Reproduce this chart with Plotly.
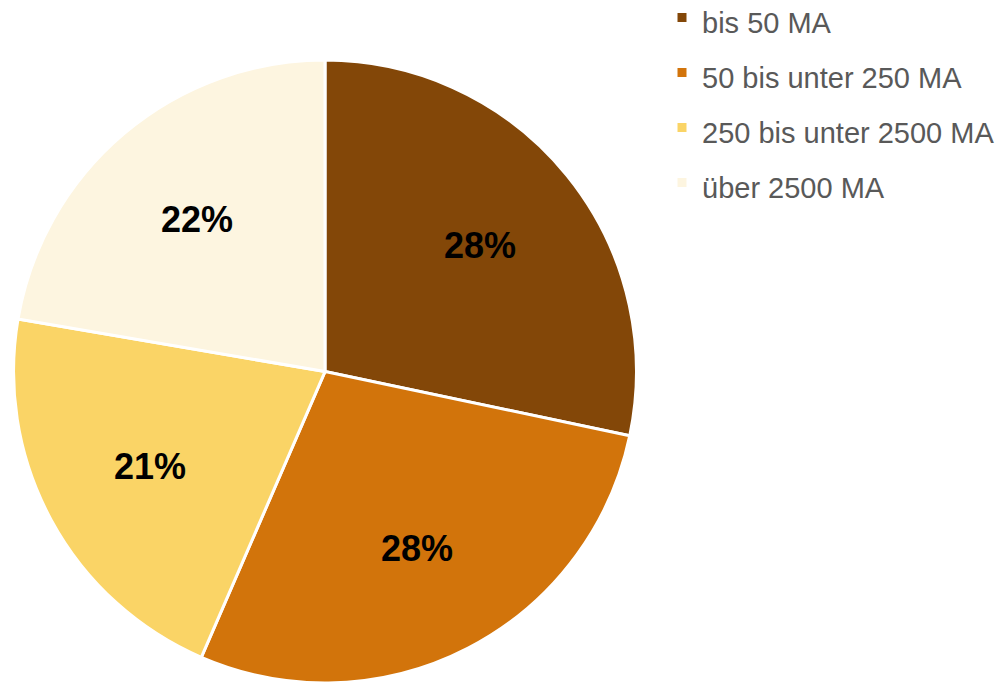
import math
import plotly.graph_objects as go

labels = ["bis 50 MA", "50 bis unter 250 MA", "250 bis unter 2500 MA", "über 2500 MA"]
values = [28.3, 28.2, 21.2, 22.3]
colors = ["#834708", "#D2740B", "#FAD466", "#FDF5E0"]

W, H = 1000, 683
dom_x = [0.013, 0.637]
dom_y = [0.0, 0.912]
font_family = "Liberation Sans, Arial, sans-serif"

fig = go.Figure(go.Pie(
    labels=[f"<span style='font-size:29px'>{l}</span>" for l in labels],
    values=values,
    sort=False,
    direction="clockwise",
    rotation=0,
    marker=dict(colors=colors, line=dict(color="white", width=3)),
    textinfo="none",
    domain=dict(x=dom_x, y=dom_y),
    hovertext=labels,
    hoverinfo="text+percent",
))

# percentage labels placed inside each slice, computed from the values
total = sum(values)
R = min((dom_x[1] - dom_x[0]) * W, (dom_y[1] - dom_y[0]) * H) / 2
cx = (dom_x[0] + dom_x[1]) / 2
cy = (dom_y[0] + dom_y[1]) / 2
k = 0.64
cum = 0.0
for v in values:
    mid = (cum + v / 2) / total
    cum += v
    th = 2 * math.pi * mid
    fig.add_annotation(
        x=cx + k * R * math.sin(th) / W,
        y=cy + k * R * math.cos(th) / H,
        xref="paper", yref="paper",
        xanchor="center", yanchor="middle",
        text=f"{round(100 * v / total)}%",
        showarrow=False,
        font=dict(family=font_family, size=36, color="black", weight="bold"),
    )

fig.update_layout(
    width=W, height=H,
    margin=dict(l=0, r=0, t=0, b=0, autoexpand=False),
    paper_bgcolor="white",
    plot_bgcolor="white",
    legend=dict(
        x=0.662, y=1.022, xanchor="left", yanchor="top",
        font=dict(family=font_family, size=40, color="#595959"),
        bgcolor="rgba(0,0,0,0)",
    ),
    showlegend=True,
)

fig.write_html("out.html", config={"displayModeBar": False},
               post_script="document.body.style.margin='0';")
